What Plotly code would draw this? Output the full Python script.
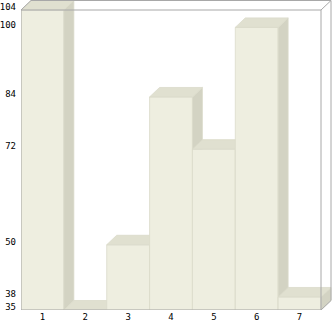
import plotly.graph_objects as go

# ---- data ----
categories = ["1", "2", "3", "4", "5", "6", "7"]
values = [104, 35, 50, 84, 72, 100, 38]
y_tick_values = [35, 38, 50, 72, 84, 100, 104]
y_tick_labels = ["35", "38", "50", "72", "84", "100", "104"]

# ---- styling / geometry ----
W, H = 333, 321
ML, MR, MT, MB = 21, 1, 0, 11
FRONT_W_PX = 300          # width of the front plane
FRONT_H_PX = 300          # height of the front plane
DEPTH_X_PX = 10
DEPTH_Y_PX = 9.5
Y_MIN, Y_MAX = min(y_tick_values), max(y_tick_values)

n = len(categories)
px_per_x = FRONT_W_PX / n
px_per_y = FRONT_H_PX / (Y_MAX - Y_MIN)
plot_w = W - ML - MR
plot_h = H - MT - MB
x_range = [0.5, 0.5 + plot_w / px_per_x]
y_range = [Y_MIN, Y_MIN + plot_h / px_per_y]
dx = DEPTH_X_PX / px_per_x
dy = DEPTH_Y_PX / px_per_y

FRONT = "#EEEEE0"
TOP = "#E0E0D0"
SIDE = "#D3D3C3"
EDGE = "#DADACA"
FRAME = "#A8A8A8"

fig = go.Figure()


def poly(xs, ys, color):
    fig.add_trace(go.Scatter(
        x=xs + [xs[0]], y=ys + [ys[0]], mode="lines", fill="toself",
        fillcolor=color, line=dict(color=EDGE, width=0.8),
        hoverinfo="skip", showlegend=False))


base = Y_MIN
for i, v in enumerate(values):
    c = i + 1
    xl, xr = c - 0.5, c + 0.5
    # front face
    poly([xl, xr, xr, xl], [base, base, v, v], FRONT)
    # side face
    poly([xr, xr + dx, xr + dx, xr], [base, base + dy, v + dy, v], SIDE)
    # top face
    poly([xl, xr, xr + dx, xl + dx], [v, v, v + dy, v + dy], TOP)

# ---- frame (glass box) ----
x0f, x1f = 0.5, n + 0.5
frame_lines = [
    (x0f, Y_MIN, x0f, Y_MAX),            # front left
    (x0f, Y_MIN, x1f, Y_MIN),            # front bottom
    (x1f, Y_MIN, x1f, Y_MAX),            # front right
    (x0f, Y_MAX, x1f, Y_MAX),            # front top
    (x0f + dx, Y_MAX + dy, x1f + dx, Y_MAX + dy),  # back top
    (x1f + dx, Y_MIN + dy, x1f + dx, Y_MAX + dy),  # back right
    (x1f, Y_MAX, x1f + dx, Y_MAX + dy),  # top-right diagonal
    (x1f, Y_MIN, x1f + dx, Y_MIN + dy),  # bottom-right diagonal
    (x0f, Y_MAX, x0f + dx, Y_MAX + dy),  # top-left diagonal
]
for (a, b, c2, d) in frame_lines:
    fig.add_shape(type="line", x0=a, y0=b, x1=c2, y1=d, xref="x", yref="y",
                  line=dict(color=FRAME, width=1), layer="above")

tick_font = dict(family="DejaVu Sans Mono", size=9, color="#000000")

fig.update_layout(
    width=W, height=H,
    margin=dict(l=ML, r=MR, t=MT, b=MB, pad=0),
    paper_bgcolor="white", plot_bgcolor="white",
    showlegend=False,
    xaxis=dict(range=x_range, tickvals=list(range(1, n + 1)), ticktext=categories,
               showgrid=False, zeroline=False, showline=False, ticks="",
               tickfont=tick_font, fixedrange=True),
    yaxis=dict(range=y_range, tickvals=y_tick_values, ticktext=y_tick_labels,
               showgrid=False, zeroline=False, showline=False, ticks="",
               tickfont=tick_font, ticklabelshift=-3, ticklabelstandoff=4,
               fixedrange=True),
)

fig.write_html("out.html")
